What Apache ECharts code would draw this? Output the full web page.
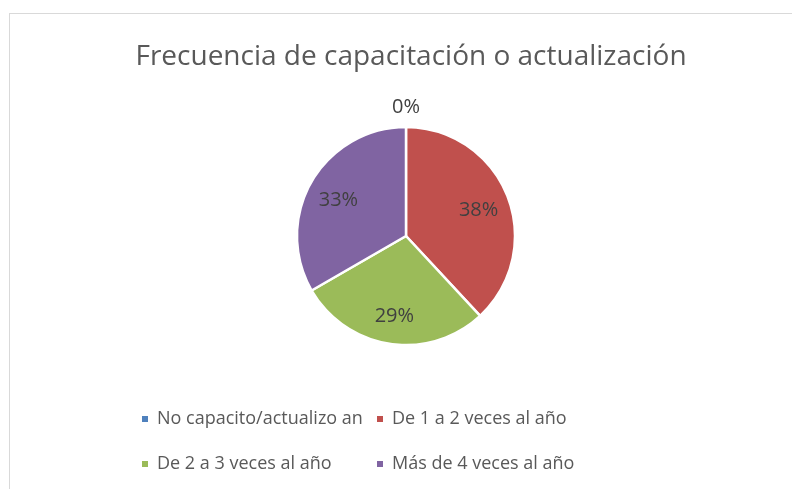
<!DOCTYPE html>
<html>
<head>
<meta charset="utf-8">
<script src="https://cdn.jsdelivr.net/npm/echarts@6/dist/echarts.min.js"></script>
<style>
  html, body { margin: 0; padding: 0; background: #fff; }
  #frame {
    position: absolute; left: 9px; top: 13px; width: 800px; height: 500px;
    border-top: 1px solid #d9d9d9; border-left: 1px solid #d9d9d9;
  }
  #chart { position: absolute; left: 0; top: 0; width: 792px; height: 489px; }
</style>
</head>
<body>
<div id="frame"></div>
<div id="chart"></div>
<script>
const titleText = 'Frecuencia de capacitación o actualización'
const categories = [
  'No capacito/actualizo an',
  'De 1 a 2 veces al año',
  'De 2 a 3 veces al año',
  'Más de 4 veces al año',
]
const counts = [0, 8, 6, 7]
const colors = ['#4f81bd', '#c0504d', '#9bbb59', '#8064a2']

const font = 'Open Sans'
const textColor = '#595959'

const chart = echarts.init(document.getElementById('chart'))

const center = [406, 236]

const legendBase = {
  orient: 'vertical',
  top: 403,
  itemWidth: 8,
  itemHeight: 8,
  itemGap: 23,
  icon: 'rect',
  selectedMode: false,
  textStyle: {
    fontFamily: font,
    fontSize: 18,
    lineHeight: 22,
    color: textColor,
    padding: [0, 0, 0, 3],
  },
}

const option = {
  animation: false,
  color: colors,
  title: {
    text: titleText,
    left: 406,
    textAlign: 'center',
    top: 38,
    textStyle: {
      fontFamily: font,
      fontSize: 28,
      fontWeight: 'normal',
      color: textColor,
    },
  },
  legend: [
    Object.assign({}, legendBase, {
      data: [categories[0], categories[2]],
      left: 135,
    }),
    Object.assign({}, legendBase, {
      data: [categories[1], categories[3]],
      left: 370,
    }),
  ],
  series: [
    {
      // the visible pie; only the zero slice gets its label outside
      type: 'pie',
      center: center,
      radius: 109,
      startAngle: 90,
      clockwise: true,
      silent: true,
      percentPrecision: 0,
      stillShowZeroSum: true,
      itemStyle: { borderColor: '#fff', borderWidth: 2.5 },
      label: {
        position: 'outside',
        formatter: '{d}%',
        fontFamily: font,
        fontSize: 20,
        color: '#404040',
        distanceToLabelLine: 0,
      },
      labelLine: { show: false, length: 20, length2: 0 },
      labelLayout: { align: 'center' },
      emphasis: { disabled: true },
      data: categories.map((name, i) => ({
        name: name,
        value: counts[i],
        label: { show: counts[i] === 0 },
      })),
    },
    {
      // transparent copy, only to place the inside labels further out
      type: 'pie',
      center: [center[0], center[1] + 3],
      radius: 150,
      startAngle: 90,
      clockwise: true,
      silent: true,
      z: 3,
      percentPrecision: 0,
      itemStyle: { color: 'rgba(0,0,0,0)', borderWidth: 0 },
      label: {
        position: 'inside',
        formatter: '{d}%',
        fontFamily: font,
        fontSize: 20,
        color: '#404040',
      },
      labelLine: { show: false },
      emphasis: { disabled: true },
      data: categories.map((name, i) => ({
        name: name,
        value: counts[i],
        label: { show: counts[i] !== 0 },
      })),
    },
  ],
}

chart.setOption(option)
</script>
</body>
</html>
